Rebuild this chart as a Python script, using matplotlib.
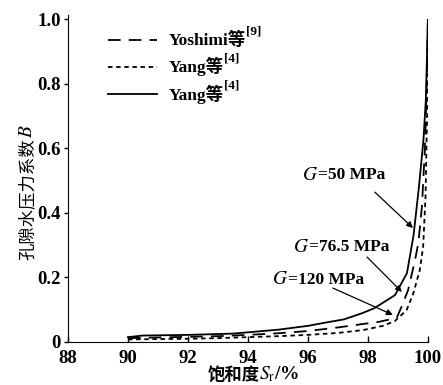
import matplotlib
matplotlib.use("Agg")
import matplotlib.pyplot as plt

plt.rcParams["mathtext.fontset"] = "stix"

SERIF = ["Liberation Serif", "DejaVu Serif"]
CJK = ["Noto Sans CJK SC", "DejaVu Sans"]
MIXED = ["Liberation Serif", "Noto Sans CJK SC"]

# -----------------------------
# Data
# -----------------------------
yoshimi_sr = [90, 91, 92, 93, 94, 95, 96, 97, 98.4, 98.96, 99.12, 99.34,
              99.57, 99.68, 99.8, 99.9, 99.96, 100]
yoshimi_b = [0.012, 0.014, 0.016, 0.018, 0.022, 0.027, 0.034, 0.045, 0.063,
             0.075, 0.109, 0.161, 0.254, 0.306, 0.42, 0.6, 0.8, 1.0]

yang_dot_sr = [90, 91, 92, 93, 94, 95, 96, 97, 97.84, 98.5, 98.9, 99.29,
               99.51, 99.73, 99.84, 99.92, 99.97, 100]
yang_dot_b = [0.008, 0.009, 0.01, 0.012, 0.015, 0.018, 0.022, 0.028, 0.037,
              0.05, 0.065, 0.099, 0.15, 0.223, 0.295, 0.45, 0.7, 1.0]

yang_solid_sr = [90, 90.5, 92, 93.5, 94, 95, 96, 96.7, 97.2, 97.8, 98.2,
                 98.9, 99.3, 99.52, 99.7, 99.85, 99.93, 100]
yang_solid_b = [0.015, 0.02, 0.022, 0.026, 0.03, 0.038, 0.05, 0.062, 0.07,
                0.089, 0.104, 0.145, 0.213, 0.33, 0.48, 0.625, 0.75, 1.0]

x_ticks = [88, 90, 92, 94, 96, 98, 100]
y_ticks = [0, 0.2, 0.4, 0.6, 0.8, 1.0]
y_tick_labels = ["0", "0.2", "0.4", "0.6", "0.8", "1.0"]

legend_names = ["Yoshimi等", "Yang等", "Yang等"]
legend_refs = ["[9]", "[4]", "[4]"]

# label text, text position, arrow tail, arrow head
g_labels = [
    ("=50 MPa", (95.8, 0.517), (98.23, 0.464), (99.5, 0.353)),
    ("=76.5 MPa", (95.5, 0.294), (97.97, 0.263), (99.13, 0.155)),
    ("=120 MPa", (94.8, 0.192), (96.83, 0.167), (98.83, 0.084)),
]

# -----------------------------
# Plot
# -----------------------------
fig = plt.figure(figsize=(4.43, 3.85), dpi=100)
ax = fig.add_axes([0.1535, 0.1117, 0.8125, 0.8389])

lw = 1.3
styles = [(0, (7, 4.5)), (0, (2.5, 2)), "-"]
series = [(yoshimi_sr, yoshimi_b), (yang_dot_sr, yang_dot_b),
          (yang_solid_sr, yang_solid_b)]
for (sx, sy), ls in zip(series, styles):
    ax.plot(sx, sy, color="black", lw=lw, linestyle=ls)

ax.set_xlim(88, 100)
ax.set_ylim(0, 1.0)
ax.spines["top"].set_visible(False)
ax.spines["right"].set_visible(False)
ax.spines["left"].set_bounds(0, 1.012)
ax.spines["left"].set_clip_on(False)

ax.set_xticks(x_ticks)
ax.set_yticks(y_ticks)
ax.set_yticklabels(y_tick_labels)
ax.tick_params(axis="x", direction="in", length=4, width=1, pad=6)
ax.tick_params(axis="y", direction="out", length=3, width=1, pad=2)
for lab in ax.get_xticklabels() + ax.get_yticklabels():
    lab.set_fontfamily(SERIF)
    lab.set_fontweight("bold")
    lab.set_fontsize(13.5)

# legend drawn by hand (mixed fonts + superscripts)
leg_y = [0.935, 0.852, 0.768]
for ls, name, ref, yy in zip(styles, legend_names, legend_refs, leg_y):
    ax.plot([0.111, 0.247], [yy, yy], transform=ax.transAxes, color="black",
            lw=lw, linestyle=ls)
    t = ax.text(0.28, yy, name, transform=ax.transAxes, va="center", ha="left",
                fontsize=12.5, fontweight="bold", family=MIXED)
    ax.annotate(ref, xy=(1.0, 0.62), xycoords=t, va="bottom", ha="left",
                fontsize=9.5, fontweight="bold", family=SERIF)

# G annotations
for txt, tpos, tail, head in g_labels:
    t = ax.text(tpos[0], tpos[1], "$G$", fontsize=14, family=SERIF,
                va="center", ha="left")
    ax.annotate(txt, xy=(1.0, 0.5), xycoords=t, va="center", ha="left",
                fontsize=12.5, fontweight="bold", family=SERIF)
    ax.annotate("", xy=head, xytext=tail,
                arrowprops=dict(arrowstyle="-|>", color="black", lw=0.9,
                                mutation_scale=9, shrinkA=0, shrinkB=0))

# axis labels
xl = fig.text(0.468, 0.0, "饱和度", family=CJK, fontsize=12.5,
              fontweight="bold", ha="left", va="bottom")
ax.annotate("$S_{\\mathrm{r}}$/%", xy=(1.0, 0.08), xycoords=xl,
            va="bottom", ha="left", fontsize=14, fontweight="bold",
            family=SERIF)

yl = fig.text(0.062, 0.325, "孔隙水压力系数", family=CJK, fontsize=12.5,
              rotation=90, ha="center", va="bottom")
ax.annotate("$B$", xy=(0.5, 1.0), xycoords=yl, va="bottom", ha="center",
            rotation=90, fontsize=14, family=SERIF)

fig.savefig("out.png", dpi=100)
